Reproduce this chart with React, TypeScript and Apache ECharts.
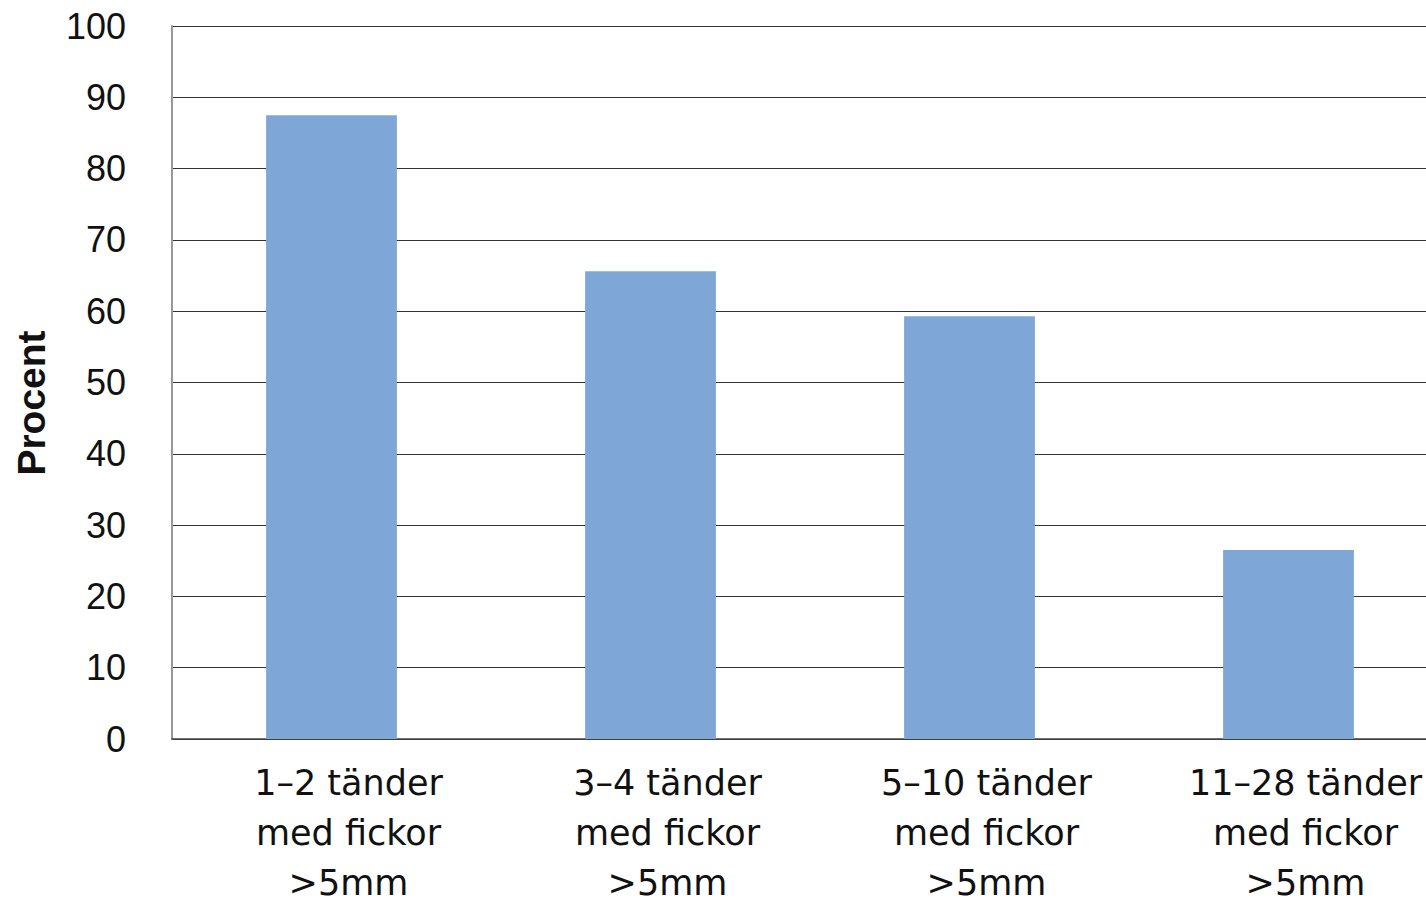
import React, { useEffect, useRef } from "react";
import * as echarts from "echarts";

const categories = [
  "1–2 tänder\nmed fickor\n>5mm",
  "3–4 tänder\nmed fickor\n>5mm",
  "5–10 tänder\nmed fickor\n>5mm",
  "11–28 tänder\nmed fickor\n>5mm",
];
const values = [87.5, 65.6, 59.3, 26.5];
const yAxisName = "Procent";

export default function App() {
  const ref = useRef<HTMLDivElement>(null);
  useEffect(() => {
    if (!ref.current) return;
    const chart = echarts.init(ref.current, null, { renderer: "svg" });
    chart.setOption({
      animation: false,
      backgroundColor: "#ffffff",
      grid: {
        left: 172,
        top: 26,
        width: 1276,
        height: 713,
        containLabel: false,
        outerBoundsMode: "none",
      },
      xAxis: {
        type: "category",
        data: categories,
        axisLine: { show: true, lineStyle: { color: "#444444", width: 1.5 } },
        axisTick: { show: false },
        axisLabel: {
          margin: 19,
          fontFamily: "DejaVu Sans, sans-serif",
          fontSize: 35,
          lineHeight: 50,
          color: "#111111",
          padding: [0, 0, 0, 34],
          interval: 0,
        },
      },
      yAxis: {
        type: "value",
        min: 0,
        max: 100,
        interval: 10,
        axisLine: { show: true, lineStyle: { color: "#999999", width: 2 } },
        axisTick: { show: false },
        splitLine: { show: true, lineStyle: { color: "#333333", width: 1.2 } },
        axisLabel: {
          margin: 46,
          fontFamily: "Liberation Sans, Arial, sans-serif",
          fontSize: 36,
          color: "#111111",
        },
      },
      graphic: [
        {
          type: "text",
          x: 31,
          y: 403,
          rotation: Math.PI / 2,
          style: {
            text: yAxisName,
            font: "bold 39px 'Liberation Sans', Arial, sans-serif",
            fill: "#111111",
            align: "center",
            verticalAlign: "middle",
          },
        },
      ],
      series: [
        {
          type: "bar",
          data: values,
          barWidth: "41%",
          itemStyle: { color: "#7EA7D7" },
        },
      ],
    });
    return () => chart.dispose();
  }, []);
  return (
    <div
      ref={ref}
      style={{ position: "fixed", left: 0, top: 0, width: 1426, height: 902 }}
    />
  );
}
